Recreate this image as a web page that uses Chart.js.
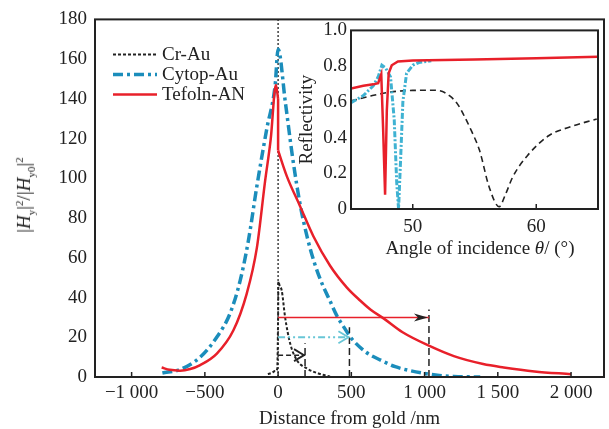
<!DOCTYPE html>
<html>
<head>
<meta charset="utf-8">
<script src="https://cdn.jsdelivr.net/npm/chart.js@4.4.1/dist/chart.umd.min.js"></script>
<style>
    body { margin: 0; background: #fff; }
    #wrap { position: relative; width: 609px; height: 429px; }
    #mainChart { position: absolute; left: 0; top: 0; }
    #insetChart { position: absolute; left: 290px; top: 15px; }
    #ytitle {
        position: absolute; left: 25px; top: 195px;
        transform: translate(-50%, -50%) rotate(-90deg);
        white-space: nowrap;
        font: 19px 'Liberation Serif', serif; color: #222;
    }
    #ytitle sub, #ytitle sup { font-size: 11px; }
    #insetTitle {
        position: absolute; left: 480px; top: 248px;
        transform: translate(-50%, -50%);
        white-space: nowrap;
        font: 19px 'Liberation Serif', serif; color: #222;
    }
</style>
</head>
<body>
<div id="wrap">
    <canvas id="mainChart" width="609" height="429"></canvas>
    <canvas id="insetChart" width="315" height="250"></canvas>
    <div id="ytitle">|<i>H</i><sub>y</sub>|<sup>2</sup>/|<i>H</i><sub>y0</sub>|<sup>2</sup></div>
    <div id="insetTitle">Angle of incidence <i>θ</i>/ (°)</div>
</div>
<script>
// ======================================
// Data - main plot (field intensity vs distance)
// ======================================
const xTickVals = [-1000, -500, 0, 500, 1000, 1500, 2000];
const xTickLabels = ['−1 000', '−500', '0', '500', '1 000', '1 500', '2 000'];

const crAuX = [-70, -45, -20, -6, 0, 2, 10, 25, 48, 82, 128, 196, 287, 355];
const crAuY = [1.5, 2, 3, 4, 30, 48, 46, 43.5, 30, 17, 8.5, 4.3, 1.5, 0.2];

const cytopX = [-790, -669, -532, -419, -328, -259, -203, -145, -77, -20, 0, 50, 100, 150, 200, 250, 300, 350, 400, 450, 500, 600, 700, 800, 900, 1000, 1100, 1200, 1380];
const cytopY = [2, 3.8, 10, 20, 32, 48.5, 68.5, 96, 125, 147, 165, 138, 110, 87, 70, 57, 47, 39, 31, 25, 19.5, 12.5, 8.5, 5.2, 3.2, 1.8, 0.8, 0.3, 0];

// the Teflon-AN curve has a step at the gold surface (index 12 -> 13)
const teflonX = [-795, -740, -669, -600, -532, -418, -305, -214, -145, -89, -50, -15, 0, 0, 60, 150, 240, 355, 470, 560, 630, 720, 850, 1037, 1200, 1400, 1540, 1750, 2000];
const teflonY = [4.8, 3.6, 3.2, 4, 6, 11.8, 23.5, 42, 65, 98.5, 120, 147, 140, 114, 101, 86, 71, 56, 45, 38.5, 34, 29.5, 22.5, 15.5, 10.5, 6.5, 4.8, 2.8, 1.4];
const teflonStep = 13;

// penetration depth markers (arrow height, arrow end, marker top)
const arrowY = [30, 20, 11];
const arrowEnd = [1030, 487, 184];
const markerTop = [34, 25, 17];

// ======================================
// Data - inset (reflectivity vs angle)
// ======================================
const angleTicks = [50, 60];
const reflTicks = [0, 0.2, 0.4, 0.6, 0.8, 1.0];

const rTeflonX = [45, 46, 46.8, 47.2, 47.45, 47.6, 47.76, 47.9, 48.05, 48.3, 48.8, 50, 55, 60, 65];
const rTeflonY = [0.675, 0.69, 0.698, 0.705, 0.755, 0.45, 0.08, 0.55, 0.76, 0.805, 0.826, 0.832, 0.837, 0.844, 0.852];

const rCytopX = [45, 46, 46.8, 47.2, 47.5, 47.8, 48.2, 48.5, 48.7, 48.85, 49.0, 49.2, 49.5, 50, 50.5, 51.5];
const rCytopY = [0.595, 0.635, 0.69, 0.74, 0.805, 0.79, 0.74, 0.5, 0.15, 0.0, 0.25, 0.6, 0.76, 0.805, 0.82, 0.83];

const rCrAuX = [45, 46.6, 48.2, 50, 51.5, 52.2, 53.0, 53.6, 54.1, 54.8, 55.4, 56.2, 57.0, 57.5, 58.1, 59.3, 61.0, 62.6, 64.9];
const rCrAuY = [0.605, 0.633, 0.655, 0.664, 0.665, 0.662, 0.633, 0.59, 0.53, 0.43, 0.33, 0.12, 0.013, 0.08, 0.18, 0.30, 0.41, 0.457, 0.504];

// ======================================
// Style
// ======================================
const RED = '#e8202a';
const BLUE = '#1b8dbb';
const CYAN = '#3fb2d2';
const LIGHT_CYAN = '#68c6d6';
const INK = '#222';
const SERIF = "'Liberation Serif', 'Times New Roman', serif";

Chart.defaults.font.family = SERIF;
Chart.defaults.font.size = 19;
Chart.defaults.color = INK;

const pts = (xs, ys) => xs.map((v, i) => ({ x: v, y: ys[i] }));

const legendItems = [
    { label: 'Cr-Au', color: INK, width: 2, dash: [3, 2] },
    { label: 'Cytop-Au', color: BLUE, width: 3.5, dash: [10, 4, 3, 4] },
    { label: 'Tefoln-AN', color: RED, width: 2.5, dash: [] }
];

function line(ctx, x1, y1, x2, y2) {
    ctx.beginPath();
    ctx.moveTo(x1, y1);
    ctx.lineTo(x2, y2);
    ctx.stroke();
}

// frame, inward ticks, arrowheads and legend for the main plot
const mainDecor = {
    id: 'mainDecor',
    afterDraw(chart) {
        const { ctx, chartArea: a, scales: { x, y } } = chart;
        ctx.save();
        ctx.strokeStyle = INK;
        ctx.lineWidth = 2;
        ctx.strokeRect(a.left, a.top, a.right - a.left, a.bottom - a.top);
        ctx.lineWidth = 1.5;
        xTickVals.forEach(v => {
            const px = x.getPixelForValue(v);
            line(ctx, px, a.bottom, px, a.bottom - 5);
        });

        // arrowheads
        arrowEnd.forEach((e, i) => {
            const px = x.getPixelForValue(e) - 1;
            const py = y.getPixelForValue(arrowY[i]);
            if (i === 0) {
                ctx.fillStyle = INK;
                ctx.beginPath();
                ctx.moveTo(px, py);
                ctx.lineTo(px - 14, py - 4);
                ctx.lineTo(px - 10, py);
                ctx.lineTo(px - 14, py + 4);
                ctx.closePath();
                ctx.fill();
            } else {
                ctx.strokeStyle = i === 1 ? LIGHT_CYAN : INK;
                ctx.lineWidth = 1.8;
                ctx.setLineDash([]);
                ctx.beginPath();
                ctx.moveTo(px - 10, py - 6);
                ctx.lineTo(px, py);
                ctx.lineTo(px - 10, py + 6);
                ctx.stroke();
            }
        });

        // legend
        ctx.font = '19px ' + SERIF;
        ctx.textBaseline = 'middle';
        ctx.fillStyle = INK;
        legendItems.forEach((it, i) => {
            const ly = a.top + 35 + i * 20;
            ctx.strokeStyle = it.color;
            ctx.lineWidth = it.width;
            ctx.setLineDash(it.dash);
            line(ctx, a.left + 18, ly, a.left + 62, ly);
            ctx.setLineDash([]);
            ctx.fillText(it.label, a.left + 67, ly + 1);
        });
        ctx.restore();
    }
};

// ======================================
// Main Chart
// ======================================
function createMainChart() {
    const teflon = pts(teflonX, teflonY);
    const datasets = [
        { data: teflon.slice(0, teflonStep), borderColor: RED, borderWidth: 2.5, cubicInterpolationMode: 'monotone', order: 1 },
        { data: teflon.slice(teflonStep - 1, teflonStep + 1), borderColor: RED, borderWidth: 2.5, order: 1 },
        { data: teflon.slice(teflonStep), borderColor: RED, borderWidth: 2.5, cubicInterpolationMode: 'monotone', order: 1 },
        { data: pts(cytopX, cytopY), borderColor: BLUE, borderWidth: 3.5, borderDash: [10, 4, 3, 4], cubicInterpolationMode: 'monotone', order: 2 },
        { data: pts(crAuX, crAuY), borderColor: INK, borderWidth: 2, borderDash: [3, 2], cubicInterpolationMode: 'monotone', order: 3 },
        // gold interface
        { data: [{ x: 0, y: 0 }, { x: 0, y: 180 }], borderColor: INK, borderWidth: 1.3, borderDash: [2, 2], order: 4 }
    ];

    // penetration depth arrows and markers
    const arrowStyles = [
        { color: RED, width: 1.5, dash: [] },
        { color: LIGHT_CYAN, width: 2, dash: [7, 3, 2, 3, 2, 3] },
        { color: INK, width: 1.5, dash: [5, 3] }
    ];
    arrowEnd.forEach((e, i) => {
        datasets.push({
            data: [{ x: 0, y: arrowY[i] }, { x: e, y: arrowY[i] }],
            borderColor: arrowStyles[i].color, borderWidth: arrowStyles[i].width,
            borderDash: arrowStyles[i].dash, order: 0
        });
        datasets.push({
            data: [{ x: e, y: 0 }, { x: e, y: markerTop[i] }],
            borderColor: INK, borderWidth: 1.5, borderDash: [7, 4], order: 0
        });
    });

    datasets.forEach(d => { d.showLine = true; d.pointRadius = 0; d.fill = false; });

    new Chart(document.getElementById('mainChart'), {
        type: 'scatter',
        data: { datasets },
        options: {
            responsive: false,
            animation: false,
            layout: { padding: { top: 17, right: 5, left: 0, bottom: 0 } },
            plugins: { legend: { display: false }, tooltip: { enabled: false } },
            scales: {
                x: {
                    type: 'linear', min: -1250, max: 2225,
                    afterBuildTicks: ax => { ax.ticks = xTickVals.map(v => ({ value: v })); },
                    afterFit: ax => { ax.height = 52; },
                    ticks: { callback: (v, i) => xTickLabels[i], padding: 5, maxRotation: 0, autoSkip: false },
                    grid: { display: false, drawTicks: false },
                    border: { display: false },
                    title: { display: true, text: 'Distance from gold /nm', padding: { top: 0, bottom: -1 } }
                },
                y: {
                    min: 0, max: 180,
                    afterFit: ax => { ax.width = 95; },
                    ticks: { stepSize: 20, padding: 8 },
                    grid: { display: false, drawTicks: false },
                    border: { display: false }
                }
            }
        },
        plugins: [mainDecor]
    });
}

// ======================================
// Inset Chart
// ======================================
const insetDecor = {
    id: 'insetDecor',
    beforeDatasetsDraw(chart) {
        const { ctx, chartArea: a } = chart;
        ctx.save();
        ctx.fillStyle = '#fff';
        ctx.fillRect(a.left, a.top, a.right - a.left, a.bottom - a.top);
        ctx.restore();
    },
    afterDraw(chart) {
        const { ctx, chartArea: a, scales: { x } } = chart;
        ctx.save();
        ctx.strokeStyle = INK;
        ctx.lineWidth = 2;
        ctx.strokeRect(a.left, a.top, a.right - a.left, a.bottom - a.top);
        ctx.lineWidth = 1.5;
        angleTicks.forEach(v => {
            const px = x.getPixelForValue(v);
            line(ctx, px, a.bottom, px, a.bottom - 5);
        });
        ctx.restore();
    }
};

function createInsetChart() {
    const datasets = [
        { data: pts(rTeflonX, rTeflonY), borderColor: RED, borderWidth: 2.5, order: 1 },
        { data: pts(rCytopX, rCytopY), borderColor: CYAN, borderWidth: 3, borderDash: [6, 2, 2, 2], order: 2 },
        { data: pts(rCrAuX, rCrAuY), borderColor: INK, borderWidth: 1.6, borderDash: [6, 4], cubicInterpolationMode: 'monotone', order: 3 }
    ];
    datasets.forEach(d => { d.showLine = true; d.pointRadius = 0; d.fill = false; });

    new Chart(document.getElementById('insetChart'), {
        type: 'scatter',
        data: { datasets },
        options: {
            responsive: false,
            animation: false,
            layout: { padding: { top: 14, right: 7, left: 0, bottom: 0 } },
            plugins: { legend: { display: false }, tooltip: { enabled: false } },
            scales: {
                x: {
                    type: 'linear', min: 45, max: 65,
                    afterBuildTicks: ax => { ax.ticks = angleTicks.map(v => ({ value: v })); },
                    afterFit: ax => { ax.height = 56; },
                    ticks: { padding: 7, maxRotation: 0, autoSkip: false },
                    grid: { display: false, drawTicks: false },
                    border: { display: false }
                },
                y: {
                    min: 0, max: 1,
                    afterBuildTicks: ax => { ax.ticks = reflTicks.map(v => ({ value: v })); },
                    afterFit: ax => { ax.width = 61; },
                    ticks: { padding: 4, callback: v => (v === 0 ? '0' : v.toFixed(1)) },
                    grid: { display: false, drawTicks: false },
                    border: { display: false },
                    title: { display: true, text: 'Reflectivity', padding: { top: 6, bottom: 0 } }
                }
            }
        },
        plugins: [insetDecor]
    });
}

createMainChart();
createInsetChart();
</script>
</body>
</html>
